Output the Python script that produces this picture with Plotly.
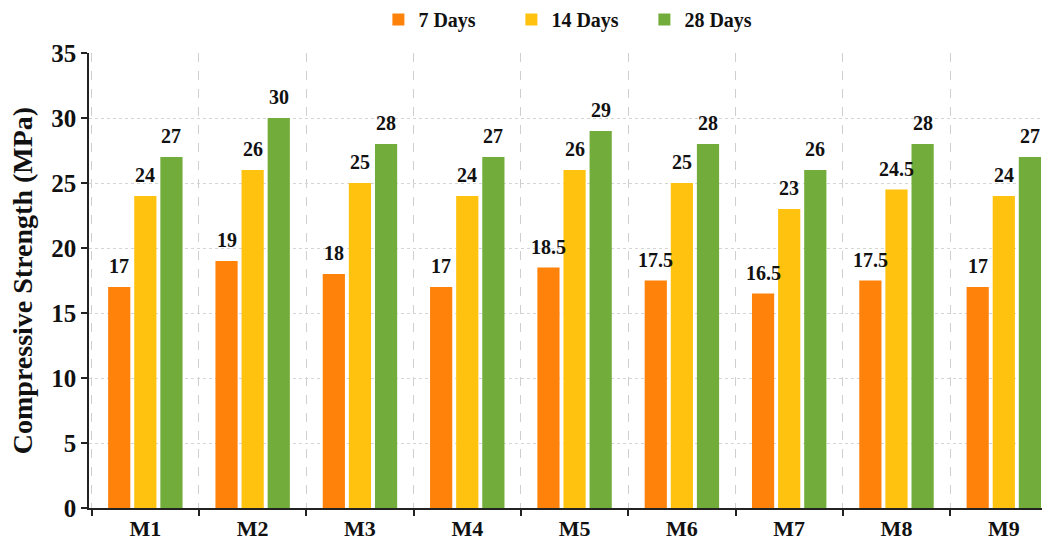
import plotly.graph_objects as go

mixes = ["M1", "M2", "M3", "M4", "M5", "M6", "M7", "M8", "M9"]
days_7 = [17, 19, 18, 17, 18.5, 17.5, 16.5, 17.5, 17]
days_14 = [24, 26, 25, 24, 26, 25, 23, 24.5, 24]
days_28 = [27, 30, 28, 27, 29, 28, 26, 28, 27]
series_names = ["7 Days", "14 Days", "28 Days"]
series_colors = ["#FF820A", "#FFC20E", "#72AC3A"]
y_ticks = [0, 5, 10, 15, 20, 25, 30, 35]

SERIF = "Liberation Serif, Times New Roman, serif"
BAR_GAP = 0.27
series_values = [days_7, days_14, days_28]

fig = go.Figure()
for name, vals, color in zip(series_names, series_values, series_colors):
    fig.add_trace(go.Bar(
        x=mixes, y=vals, name=name,
        marker=dict(color=color, line=dict(width=0)),
    ))

# value labels above each bar, placed at the centre of its slot in the group
slot = (1 - BAR_GAP) / len(series_values)
for k, vals in enumerate(series_values):
    offset = (k - (len(series_values) - 1) / 2) * slot
    for i, v in enumerate(vals):
        fig.add_annotation(
            x=i + offset, y=v, xref="x", yref="y",
            text=f"{v:g}", showarrow=False,
            yanchor="bottom", xanchor="center", yshift=8,
            font=dict(family=SERIF, size=20, color="#111111", weight="bold"),
        )

fig.update_layout(
    width=1042, height=544,
    margin=dict(l=89, r=0, t=53, b=36),
    paper_bgcolor="white", plot_bgcolor="white",
    barmode="group", bargap=BAR_GAP, bargroupgap=0.15,
    font=dict(family=SERIF, color="#111111"),
    legend=dict(
        orientation="h", x=0.513, xanchor="center", y=1.0, yref="container",
        yanchor="top",
        font=dict(family=SERIF, size=20, color="#111111", weight="bold"),
        itemwidth=30, entrywidth=88, entrywidthmode="pixels",
    ),
    showlegend=True,
)

fig.update_xaxes(
    range=[-0.525, 8.356],
    tickson="boundaries",
    showgrid=True, gridcolor="#CFCFCF", griddash="dash", gridwidth=1,
    showline=True, linecolor="#222222", linewidth=1.5,
    ticks="outside", ticklen=6, tickcolor="#222222", tickwidth=1.5,
    tickfont=dict(family=SERIF, size=22, color="#111111", weight="bold"),
)
fig.update_yaxes(
    range=[0, 35], tickvals=y_ticks,
    showgrid=True, gridcolor="#D5D5D5", griddash="dot", gridwidth=1,
    showline=True, linecolor="#222222", linewidth=1.5,
    ticks="outside", ticklen=6, tickcolor="#222222", tickwidth=1.5,
    tickfont=dict(family=SERIF, size=25, color="#111111", weight="bold"),
    zeroline=False,
    title=dict(text="Compressive Strength (MPa)", standoff=10,
               font=dict(family=SERIF, size=28, color="#111111", weight="bold")),
)

fig.write_html("out.html")
